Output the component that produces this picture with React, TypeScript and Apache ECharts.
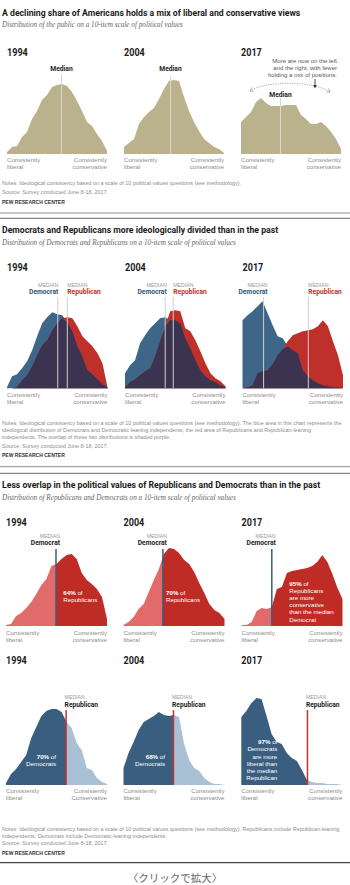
import React, { useEffect, useRef } from "react";
import * as echarts from "echarts";

// ---------- DATA ----------
const SCALE = [-10, -9, -8, -7, -6, -5, -4, -3, -2, -1, 0, 1, 2, 3, 4, 5, 6, 7, 8, 9, 10];
const YEARS = ["1994", "2004", "2017"];

// Chart 1: general public distribution (share at each scale point)
const PUBLIC_1994 = [0.2, 0.7, 0.8, 1.7, 2.2, 3.5, 4.3, 5.4, 5.9, 6.7, 6.9, 7.0, 6.8, 6.2, 5.3, 4.3, 3.2, 2.8, 2.0, 1.3, 0.3];
const PUBLIC_2004 = [0.7, 1.1, 1.5, 3.0, 3.7, 4.2, 4.6, 5.5, 6.5, 7.3, 7.4, 7.3, 5.7, 4.3, 3.2, 2.3, 1.5, 1.1, 0.7, 0.5, 0.1];
const PUBLIC_2017 = [3.2, 3.7, 4.2, 5.2, 5.6, 5.1, 4.8, 4.8, 4.8, 4.9, 4.9, 4.9, 3.9, 3.5, 3.0, 3.0, 3.2, 2.8, 2.2, 1.5, 0.5];
const PUBLIC_MEDIAN = [0.9, -0.7, -2.1];

// Chart 2: Democrats vs Republicans
const DEM_1994 = [0.1, 1.2, 1.4, 2.0, 2.7, 3.8, 5.2, 6.5, 7.1, 7.6, 7.4, 7.3, 6.6, 5.7, 4.2, 3.2, 1.8, 1.4, 0.9, 0.4, 0.1];
const DEM_2004 = [1.5, 2.3, 2.8, 4.5, 5.3, 6.0, 6.5, 7.0, 7.1, 6.8, 6.8, 6.5, 5.0, 4.0, 2.8, 1.8, 1.2, 0.8, 0.6, 0.3, 0.1];
const DEM_2017 = [6.8, 7.3, 7.7, 8.2, 8.7, 7.5, 6.3, 5.2, 5.0, 4.2, 3.8, 3.5, 1.8, 1.2, 0.8, 0.5, 0.3, 0.2, 0.1, 0.1, 0.0];
const REP_1994 = [0.0, 0.0, 0.1, 0.8, 1.3, 2.2, 3.3, 4.3, 4.8, 5.8, 6.5, 7.0, 7.1, 7.0, 6.2, 5.2, 4.7, 4.2, 3.5, 2.5, 0.1];
const REP_2004 = [0.1, 0.6, 0.9, 1.3, 1.7, 2.0, 3.2, 4.7, 6.2, 7.7, 7.8, 7.7, 6.0, 5.7, 4.8, 3.7, 2.5, 1.5, 1.0, 0.7, 0.2];
const REP_2017 = [0.0, 0.1, 0.3, 1.5, 1.7, 1.8, 2.4, 3.3, 3.9, 4.7, 5.3, 5.5, 5.7, 5.8, 5.9, 6.2, 6.8, 6.2, 4.7, 3.3, 1.3];
const DEM_MEDIAN = [0.1, -2.0, -5.8];
const REP_MEDIAN = [2.0, -0.4, 3.1];

// Chart 3, top row: Republicans split at the median Democrat
const REP_SPLIT_1994 = [0.1, 0.2, 1.0, 1.3, 1.8, 2.4, 3.2, 4.1, 4.7, 6.0, 6.2, 6.7, 7.1, 7.2, 6.7, 5.3, 4.6, 4.2, 3.7, 2.9, 0.7];
const REP_SPLIT_2004 = [0.1, 0.4, 0.9, 1.7, 2.2, 3.4, 4.6, 5.7, 7.2, 7.8, 7.7, 7.3, 6.6, 6.2, 5.4, 4.3, 3.3, 2.2, 1.6, 1.3, 0.7];
const REP_SPLIT_2017 = [0.1, 0.1, 0.4, 1.5, 1.8, 1.7, 1.9, 3.7, 3.9, 5.3, 5.5, 5.6, 5.7, 5.8, 6.0, 6.4, 7.1, 6.4, 5.2, 3.8, 2.7];
const MEDIAN_DEM_SPLIT = [-0.1, -2.2, -4.0];
const REP_MORE_CONSERVATIVE = [64, 70, 95];

// Chart 3, bottom row: Democrats split at the median Republican
const DEM_SPLIT_1994 = [0.2, 1.1, 1.6, 2.3, 3.0, 4.7, 5.8, 6.9, 7.4, 7.6, 7.6, 7.3, 6.3, 5.7, 4.2, 3.5, 1.7, 1.5, 0.7, 0.3, 0.1];
const DEM_SPLIT_2004 = [1.7, 3.2, 4.3, 5.5, 6.3, 6.6, 6.9, 7.3, 7.0, 6.9, 7.0, 6.8, 4.1, 2.5, 1.7, 1.4, 0.7, 0.3, 0.1, 0.1, 0.0];
const DEM_SPLIT_2017 = [6.8, 7.4, 8.2, 8.7, 8.6, 6.9, 5.1, 4.3, 4.1, 3.2, 2.7, 2.4, 1.5, 0.5, 0.3, 0.2, 0.2, 0.1, 0.1, 0.1, 0.0];
const MEDIAN_REP_SPLIT = [1.9, -0.1, 3.1];
const DEM_MORE_LIBERAL = [70, 68, 97];

// ---------- STYLE ----------
const SANS = '"Liberation Sans", Arial, sans-serif';
const BOLD = 'Roboto, "Liberation Sans", sans-serif';
const SERIF = '"Liberation Serif", "DejaVu Serif", serif';
const TAN = "#b9b28c";
const BLUE = "#3e6689";
const RED = "#c0302a";
const PURPLE = "#3b3350";
const DARK_RED = "#bf2b25";
const LIGHT_RED = "#e16a6a";
const DARK_BLUE = "#3a5e80";
const LIGHT_BLUE = "#a8c1d4";
const GREY = "#8c8c8c";
const TITLE_SIZE = 8.7;
const SUB_SIZE = 7.2;
const NOTE_SIZE = 5.45;

const ROWS = {
  r1: { lefts: [7, 124, 241], width: 100, top: 64, height: 90 },
  r2: { lefts: [7, 125, 242.5], width: 100.5, top: 290, height: 98.3 },
  r3: { lefts: [6, 123.5, 241.5], width: 101, top: 540, height: 86 },
  r4: { lefts: [6, 123.5, 241.3], width: 101, top: 690, height: 95 },
};

function buildOption() {
  const option: any = {
    animation: false,
    grid: [],
    xAxis: [],
    yAxis: [],
    series: [],
    visualMap: [],
  };
  let gCount = 0;
  const addGrid = (left: number, top: number, width: number, height: number) => {
    option.grid.push({ left, top, width, height, show: false });
    option.xAxis.push({ gridIndex: gCount, type: "value", min: -10, max: 10, show: false });
    option.yAxis.push({ gridIndex: gCount, type: "value", min: 0, max: height / 10, show: false });
    return gCount++;
  };
  const area = (gi: number, vals: number[], color: string | null, z: number) => {
    option.series.push({
      type: "line",
      xAxisIndex: gi,
      yAxisIndex: gi,
      data: SCALE.map((x, i) => [x, vals[i]]),
      symbol: "none",
      showSymbol: false,
      lineStyle: { width: 0 },
      areaStyle: color ? { color, opacity: 1 } : { opacity: 1 },
      silent: true,
      clip: false,
      z,
    });
    return option.series.length - 1;
  };
  // vertical median line drawn as a two-point line series on the grid's own axes
  const median = (gi: number, x: number, top: number, color: string, w: number) => {
    option.series.push({
      type: "line",
      xAxisIndex: gi,
      yAxisIndex: gi,
      data: [
        [x, 0],
        [x, top],
      ],
      symbol: "none",
      showSymbol: false,
      lineStyle: { color, width: w },
      silent: true,
      clip: false,
      z: 5,
    });
  };
  const grids: Record<string, number[]> = { r1: [], r2: [], r3: [], r4: [] };

  // Row 1: public
  const pub = [PUBLIC_1994, PUBLIC_2004, PUBLIC_2017];
  const pubTops = [8.0, 7.8, 5.6];
  pub.forEach((vals, i) => {
    const r = ROWS.r1;
    const gi = addGrid(r.lefts[i], r.top, r.width, r.height);
    grids.r1.push(gi);
    area(gi, vals, TAN, 2);
    median(gi, PUBLIC_MEDIAN[i], pubTops[i], "#dcd8c8", 1);
  });

  // Row 2: Dem vs Rep overlap
  const dems = [DEM_1994, DEM_2004, DEM_2017];
  const reps = [REP_1994, REP_2004, REP_2017];
  dems.forEach((d, i) => {
    const r = ROWS.r2;
    const gi = addGrid(r.lefts[i], r.top, r.width, r.height);
    grids.r2.push(gi);
    area(gi, d, BLUE, 2);
    area(gi, reps[i], RED, 2);
    const overlap = d.map((v, k) => Math.min(v, reps[i][k]));
    area(gi, overlap, PURPLE, 3);
    median(gi, DEM_MEDIAN[i], 9.13, "#cfcfcf", 1);
    median(gi, REP_MEDIAN[i], 9.13, "#cfcfcf", 1);
  });

  // Row 3: Republicans split at median Democrat
  const repSplit = [REP_SPLIT_1994, REP_SPLIT_2004, REP_SPLIT_2017];
  repSplit.forEach((vals, i) => {
    const r = ROWS.r3;
    const gi = addGrid(r.lefts[i], r.top, r.width, r.height);
    grids.r3.push(gi);
    const si = area(gi, vals, null, 2);
    option.visualMap.push({
      type: "piecewise",
      show: false,
      seriesIndex: si,
      dimension: 0,
      pieces: [
        { gte: -10, lt: MEDIAN_DEM_SPLIT[i], color: LIGHT_RED },
        { gte: MEDIAN_DEM_SPLIT[i], lte: 10, color: DARK_RED },
      ],
    });
    median(gi, MEDIAN_DEM_SPLIT[i], 7.7, DARK_BLUE, 1.5);
  });

  // Row 4: Democrats split at median Republican
  const demSplit = [DEM_SPLIT_1994, DEM_SPLIT_2004, DEM_SPLIT_2017];
  demSplit.forEach((vals, i) => {
    const r = ROWS.r4;
    const gi = addGrid(r.lefts[i], r.top, r.width, r.height);
    grids.r4.push(gi);
    const si = area(gi, vals, null, 2);
    option.visualMap.push({
      type: "piecewise",
      show: false,
      seriesIndex: si,
      dimension: 0,
      pieces: [
        { gte: -10, lte: MEDIAN_REP_SPLIT[i], color: DARK_BLUE },
        { gt: MEDIAN_REP_SPLIT[i], lte: 10, color: LIGHT_BLUE },
      ],
    });
    median(gi, MEDIAN_REP_SPLIT[i], 7.5, "#c9322d", 1.5);
  });

  return { option, grids };
}

const txt = (text: string, x: number, y: number, size: number, o: any = {}) => ({
  type: "text",
  x,
  y,
  silent: true,
  scaleX: o.sx ?? 1,
  scaleY: o.sy ?? 1,
  z: 100,
  style: {
    text,
    fill: o.color ?? "#333",
    fontSize: size,
    fontFamily: o.family ?? SANS,
    fontWeight: o.weight ?? "normal",
    fontStyle: o.fstyle ?? "normal",
    align: o.align ?? "left",
    verticalAlign: o.va ?? "middle",
    lineHeight: o.lh ?? size * 1.2,
    rich: o.rich,
  },
});

const hline = (y: number, color: string, w: number) => ({
  type: "line",
  silent: true,
  z: 100,
  shape: { x1: 0, y1: y, x2: 350, y2: y },
  style: { stroke: color, lineWidth: w },
});

function buildGraphics(chart: any, grids: Record<string, number[]>) {
  const px = (gi: number, x: number) => chart.convertToPixel({ gridIndex: gi }, [x, 0])[0];
  const g: any[] = [];
  const titleOpts = { weight: "bold", family: BOLD, color: "#1c1c1c" };
  const subOpts = { family: SERIF, fstyle: "italic", color: "#666" };
  const yearOpts = { weight: "bold", family: BOLD, color: "#1c1c1c", sx: 0.88 };
  const consLabels = (row: any, y: number, conservative = "conservative") => {
    row.lefts.forEach((l: number, i: number) => {
      g.push(txt("Consistently\nliberal", l, y, 6.1, { color: GREY, lh: 6.8 }));
      g.push(
        txt("Consistently\n" + (i === 0 ? conservative : "conservative"), l + row.width, y, 6.1, {
          color: GREY,
          lh: 6.8,
          align: "right",
        })
      );
    });
  };

  // ---------- Section 1 ----------
  g.push(txt("A declining share of Americans holds a mix of liberal and conservative views", 2, 12.5, TITLE_SIZE, titleOpts));
  g.push(txt("Distribution of the public on a 10-item scale of political values", 2, 25, SUB_SIZE, subOpts));
  ROWS.r1.lefts.forEach((l, i) => g.push(txt(YEARS[i], l, 52, 10.3, yearOpts)));
  const medY1 = [69, 69, 94.7];
  grids.r1.forEach((gi, i) =>
    g.push(txt("Median", px(gi, PUBLIC_MEDIAN[i]), medY1[i], 6.7, { weight: "bold", family: BOLD, align: "center", color: "#222" }))
  );
  g.push(
    txt("More are now on the left\nand the right, with fewer\nholding a mix of positions.", 337, 68, 6.0, {
      align: "right",
      color: "#555",
      lh: 7,
    })
  );
  g.push({
    type: "bezierCurve",
    silent: true,
    z: 100,
    shape: { x1: 250, y1: 91, cpx1: 266, cpy1: 80.5, cpx2: 313, cpy2: 80.5, x2: 330, y2: 92 },
    style: { stroke: "#999", lineWidth: 0.8, lineDash: [1.2, 1.2], fill: null },
  });
  g.push({
    type: "polyline",
    silent: true,
    z: 100,
    shape: { points: [[251.8, 87.6], [250, 91], [253.6, 91.4]] },
    style: { stroke: "#999", lineWidth: 0.8, fill: null },
  });
  g.push({
    type: "polyline",
    silent: true,
    z: 100,
    shape: { points: [[328.4, 88.5], [330, 92], [326.4, 92.2]] },
    style: { stroke: "#999", lineWidth: 0.8, fill: null },
  });
  g.push({ type: "line", silent: true, z: 100, shape: { x1: 315, y1: 79, x2: 315, y2: 86 }, style: { stroke: "#333", lineWidth: 0.9 } });
  g.push({
    type: "polygon",
    silent: true,
    z: 100,
    shape: { points: [[313.2, 85], [316.8, 85], [315, 88.6]] },
    style: { fill: "#333" },
  });
  consLabels(ROWS.r1, 162.7);
  g.push(txt("Notes: Ideological consistency based on a scale of 10 political values questions (see methodology).", 2, 183.3, NOTE_SIZE, { color: GREY }));
  g.push(txt("Source: Survey conducted June 8-18, 2017.", 2, 192.3, NOTE_SIZE, { color: GREY }));
  g.push(txt("PEW RESEARCH CENTER", 2, 202, 5, { weight: "bold", color: "#333" }));
  g.push(hline(213, "#8f8f8f", 1));
  g.push(hline(218.3, "#666", 1));

  // ---------- Section 2 ----------
  g.push(txt("Democrats and Republicans more ideologically divided than in the past", 2, 230, TITLE_SIZE, titleOpts));
  g.push(txt("Distribution of Democrats and Republicans on a 10-item scale of political values", 2, 243, SUB_SIZE, subOpts));
  ROWS.r2.lefts.forEach((l, i) => g.push(txt(YEARS[i], l, 267, 10.3, yearOpts)));
  const demNudge = [0.5, 1.5, 4];
  grids.r2.forEach((gi, i) => {
    const dx = px(gi, DEM_MEDIAN[i]) + demNudge[i];
    const rx = px(gi, REP_MEDIAN[i]);
    g.push(txt("MEDIAN", dx, 284.7, 5.2, { align: "right", color: "#999" }));
    g.push(txt("Democrat", dx, 291.8, 6.7, { align: "right", weight: "bold", family: BOLD, color: "#2e5677" }));
    g.push(txt("MEDIAN", rx, 284.7, 5.2, { color: "#999" }));
    g.push(txt("Republican", rx, 291.8, 6.7, { weight: "bold", family: BOLD, color: RED }));
  });
  consLabels(ROWS.r2, 398.3);
  g.push(
    txt(
      "Notes: Ideological consistency based on a scale of 10 political values questions (see methodology). The blue area in this chart represents the\nideological distribution of Democrats and Democratic-leaning independents; the red area of Republicans and Republican-leaning\nindependents. The overlap of these two distributions is shaded purple.",
      2,
      430,
      NOTE_SIZE,
      { color: GREY, lh: 6.7 }
    )
  );
  g.push(txt("Source: Survey conducted June 8-18, 2017.", 2, 445.7, NOTE_SIZE, { color: GREY }));
  g.push(txt("PEW RESEARCH CENTER", 2, 455, 5, { weight: "bold", color: "#333" }));
  g.push(hline(466.7, "#8f8f8f", 1));
  g.push(hline(473.3, "#666", 1));

  // ---------- Section 3 ----------
  g.push(txt("Less overlap in the political values of Republicans and Democrats than in the past", 2, 485, TITLE_SIZE, titleOpts));
  g.push(txt("Distribution of Republicans and Democrats on a 10-item scale of political values", 2, 498.3, SUB_SIZE, subOpts));
  ROWS.r3.lefts.forEach((l, i) => g.push(txt(YEARS[i], l, 522, 10.3, yearOpts)));
  ROWS.r4.lefts.forEach((l, i) => g.push(txt(YEARS[i], l, 660, 10.3, yearOpts)));
  grids.r3.forEach((gi, i) => {
    const dx = px(gi, MEDIAN_DEM_SPLIT[i]) + 4;
    g.push(txt("MEDIAN", dx, 535.7, 5.2, { align: "right", color: "#999" }));
    g.push(txt("Democrat", dx, 542.8, 6.7, { align: "right", weight: "bold", family: BOLD, color: "#1c1c1c" }));
  });
  grids.r4.forEach((gi, i) => {
    const rx = px(gi, MEDIAN_REP_SPLIT[i]) - 1.5;
    g.push(txt("MEDIAN", rx, 697.3, 5.2, { color: "#999" }));
    g.push(txt("Republican", rx, 704.7, 6.7, { weight: "bold", family: BOLD, color: "#1c1c1c" }));
  });
  const rich = { b: { fontWeight: "bold", fontSize: 6.2, fontFamily: SANS, fill: "#fff" }, n: { fontSize: 6.2, fontFamily: SANS, fill: "#fff" } };
  const inX1 = [63.3, 166, 289.3];
  const inTexts1 = [
    `{b|${REP_MORE_CONSERVATIVE[0]}%}{n| of}\n{n|Republicans}`,
    `{b|${REP_MORE_CONSERVATIVE[1]}%}{n| of}\n{n|Republicans}`,
    `{b|${REP_MORE_CONSERVATIVE[2]}%}{n| of}\n{n|Republicans}\n{n|are more}\n{n|conservative}\n{n|than the median}\n{n|Democrat}`,
  ];
  const inY1 = [596.3, 596.3, 601.3];
  inTexts1.forEach((t, i) => g.push(txt(t, inX1[i], inY1[i], 6.2, { color: "#fff", lh: 7.1, rich })));
  const inX2 = [56, 165, 277.3];
  const inTexts2 = [
    `{b|${DEM_MORE_LIBERAL[0]}%}{n| of}\n{n|Democrats}`,
    `{b|${DEM_MORE_LIBERAL[1]}%}{n| of}\n{n|Democrats}`,
    `{b|${DEM_MORE_LIBERAL[2]}%}{n| of}\n{n|Democrats}\n{n|are more}\n{n|liberal than}\n{n|the median}\n{n|Republican}`,
  ];
  const inY2 = [760.3, 760.3, 759.7];
  inTexts2.forEach((t, i) => g.push(txt(t, inX2[i], inY2[i], 6.2, { color: "#fff", lh: 7.2, rich, align: "right" })));
  consLabels(ROWS.r3, 635.7);
  consLabels(ROWS.r4, 794.3, "Conservative");
  g.push(
    txt(
      "Notes: Ideological consistency based on a scale of 10 political values questions (see methodology). Republicans include Republican-leaning\nindependents; Democrats include Democratic-leaning independents.",
      2,
      832.4,
      NOTE_SIZE,
      { color: GREY, lh: 6.7 }
    )
  );
  g.push(txt("Source: Survey conducted June 8-18, 2017.", 2, 842.7, NOTE_SIZE, { color: GREY }));
  g.push(txt("PEW RESEARCH CENTER", 2, 852.7, 5, { weight: "bold", color: "#333" }));
  g.push(hline(862.7, "#444", 1.2));
  g.push(txt("〈クリックで拡大〉", 175, 877, 10.5, { align: "center", color: "#666", family: '"Noto Sans CJK JP", sans-serif' }));
  return g;
}

export default function App() {
  const ref = useRef<HTMLDivElement>(null);
  useEffect(() => {
    if (!ref.current) return;
    const chart = echarts.init(ref.current, null, { renderer: "svg" });
    const { option, grids } = buildOption();
    chart.setOption(option);
    chart.setOption({ graphic: buildGraphics(chart, grids) });
    return () => chart.dispose();
  }, []);
  return (
    <div
      ref={ref}
      style={{ position: "absolute", left: 0, top: 0, width: 350, height: 885, background: "#fff" }}
    />
  );
}
